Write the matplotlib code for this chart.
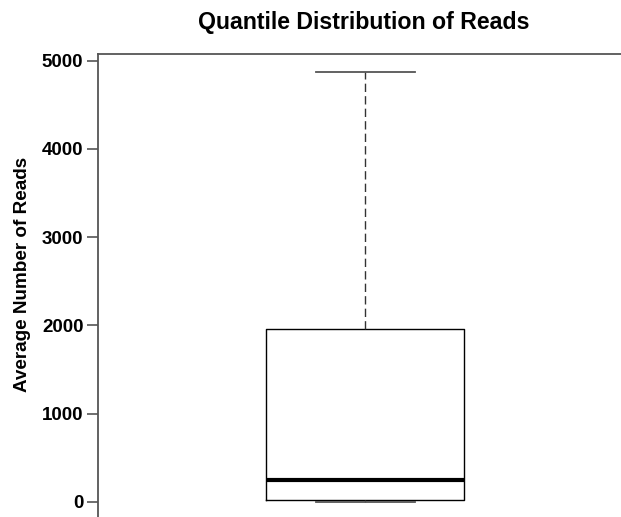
import matplotlib
matplotlib.use("Agg")
import matplotlib.pyplot as plt

# Box statistics
whisker_low = 0
q1 = 23
median = 249
q3 = 1963
whisker_high = 4873
yticks = [0, 1000, 2000, 3000, 4000, 5000]

title = "Quantile Distribution of Reads"
ylabel = "Average Number of Reads"

plt.rcParams['font.family'] = ['Liberation Sans', 'DejaVu Sans']

W, H = 621, 517
fig = plt.figure(figsize=(W / 100, H / 100), dpi=100)

# axes in pixel coords (extends past right and bottom edge like the cropped original)
left_px, right_px, top_px, bottom_px = 98, 632, 54, 540
ax = fig.add_axes([left_px / W, (H - bottom_px) / H,
                   (right_px - left_px) / W, (bottom_px - top_px) / H])

px_per_unit = (502 - 60.7) / 5000.0
ymax = 5000 + (60.7 - top_px) / px_per_unit
ymin = 0 - (bottom_px - 502) / px_per_unit
ax.set_ylim(ymin, ymax)
ax.set_xlim(0, 1)

stats = [dict(med=median, q1=q1, q3=q3, whislo=whisker_low, whishi=whisker_high,
              fliers=[], label="")]
ax.bxp(stats, positions=[0.5], widths=198 / 534, showfliers=False,
       boxprops=dict(color='black', linewidth=1.0),
       medianprops=dict(color='black', linewidth=3.0),
       whiskerprops=dict(color='#333333', linewidth=1.0, linestyle=(0, (6, 3))),
       capprops=dict(color='#555555', linewidth=1.3),
       manage_ticks=False)

ax.set_xticks([])
ax.set_yticks(yticks)
ax.set_yticklabels([str(t) for t in yticks], fontweight='bold', fontsize=13.5)
ax.tick_params(axis='y', length=8, width=1.2, color='#555555', pad=2.5)
for s in ['left', 'top']:
    ax.spines[s].set_color('#555555')
    ax.spines[s].set_linewidth(1.3)
ax.spines['right'].set_visible(False)
ax.spines['bottom'].set_visible(False)

fig.text(363.5 / W, 1 - 23 / H, title, ha='center', va='center',
         fontsize=16.7, fontweight='bold')
fig.text(23 / W, 1 - 274 / H, ylabel, ha='center', va='center',
         rotation=90, fontsize=13.6, fontweight='bold')

fig.savefig("out.png", dpi=100)
